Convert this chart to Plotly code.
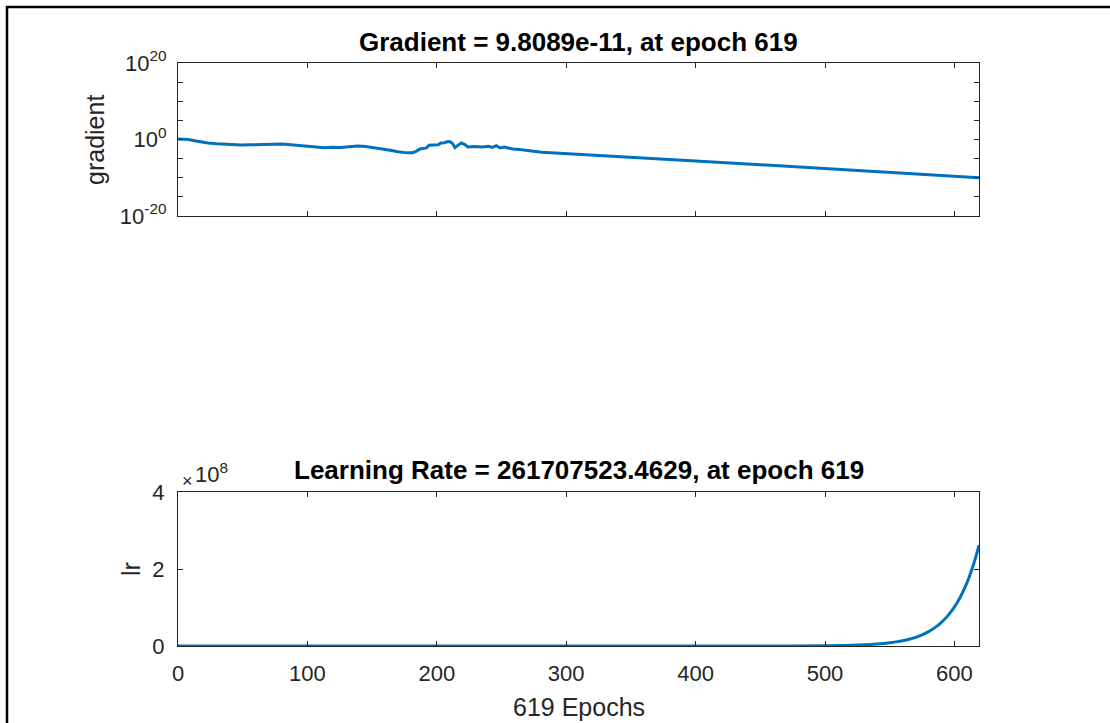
import plotly.graph_objects as go

# ---- training record ----
grad_epochs = [0, 4, 8, 13, 18, 23, 30, 36, 43, 49, 56, 62, 69, 75, 80, 85, 92, 100,
               106, 113, 119, 126, 132, 139, 145, 151, 158, 164, 170, 177, 181, 184,
               187, 190, 192, 194, 197, 201, 203, 206, 208, 210, 212, 214, 216, 219,
               222, 224, 229, 235, 240, 243, 246, 249, 252, 256, 259, 264, 269, 275,
               281, 288, 294, 305, 350, 400, 450, 500, 550, 600, 619]
gradient = [1.35, 1.26, 1.0, 0.45, 0.22, 0.13, 0.079, 0.056, 0.042, 0.036, 0.040,
            0.045, 0.056, 0.079, 0.063, 0.050, 0.028, 0.016, 0.011, 0.0072, 0.0089,
            0.0079, 0.0126, 0.020, 0.014, 0.0079, 0.0035, 0.0016, 6.3e-4, 3.2e-4,
            3.5e-4, 7.9e-4, 3.2e-3, 4.5e-3, 6.3e-3, 0.032, 0.032, 0.040, 0.126, 0.14,
            0.25, 0.28, 0.10, 0.0079, 0.025, 0.126, 0.040, 0.011, 0.014, 0.011, 0.016,
            0.0089, 0.025, 0.0063, 0.010, 0.005, 0.0032, 0.0025, 0.0014, 7.9e-4,
            4.5e-4, 3.2e-4, 2.5e-4, 1.6e-4, 2.0e-5, 2.5e-6, 2.5e-7, 2.5e-8, 2.5e-9,
            2.3e-10, 9.8089e-11]

lr_epochs = [0, 100, 200, 300, 400, 450, 500, 510, 520, 530, 540, 550, 555, 560, 565,
             570, 575, 580, 585, 590, 595, 598, 601, 603, 605, 607, 609, 611, 613,
             615, 617, 619]
lr = [0.01, 5, 80, 900, 5.0e3, 6.0e4, 6.8e5, 1.12e6, 1.85e6, 3.0e6, 5.0e6, 8.3e6,
      1.07e7, 1.37e7, 1.76e7, 2.26e7, 2.9e7, 3.73e7, 4.78e7, 6.14e7, 7.89e7, 9.16e7,
      1.064e8, 1.176e8, 1.299e8, 1.436e8, 1.587e8, 1.754e8, 1.939e8, 2.143e8,
      2.368e8, 261707523.4629]

x_ticks = [0, 100, 200, 300, 400, 500, 600]
grad_tickvals = [1e-20, 1e-15, 1e-10, 1e-5, 1, 1e5, 1e10, 1e15, 1e20]
grad_ticktext = ["10<sup>-20</sup>", "", "", "", "10<sup>0</sup>", "", "", "", "10<sup>20</sup>"]
lr_tickvals = [0, 2e8, 4e8]
lr_ticktext = ["0", "2", "4"]

n_epochs = grad_epochs[-1]
LINE = "#0072BD"
AX = "#262626"
FONT = "Liberation Sans, Arial, Helvetica, sans-serif"

fig = go.Figure()
fig.add_trace(go.Scatter(x=grad_epochs, y=gradient, mode="lines",
                         line=dict(color=LINE, width=3), xaxis="x", yaxis="y",
                         showlegend=False, hoverinfo="skip"))
fig.add_trace(go.Scatter(x=lr_epochs, y=lr, mode="lines",
                         line=dict(color=LINE, width=3, shape="spline", smoothing=0.6),
                         xaxis="x2", yaxis="y2", showlegend=False, hoverinfo="skip"))

axis_common = dict(showline=True, linecolor=AX, linewidth=1, mirror="ticks",
                   ticks="inside", ticklen=5, tickcolor=AX, tickwidth=1,
                   showgrid=False, zeroline=False,
                   tickfont=dict(family=FONT, size=22, color=AX))

# plot area: left 178, right 979, top 63, bottom 646 (px)
L, R, T, B, W, H = 178, 131, 63, 77, 1110, 723
pw, ph = W - L - R, H - T - B


def px(xp):
    return (xp - L) / pw


def py(yp):
    return (H - B - yp) / ph


fig.update_layout(
    width=W, height=H,
    margin=dict(l=L, r=R, t=T, b=B),
    paper_bgcolor="white", plot_bgcolor="white",
    font=dict(family=FONT, color=AX),
    xaxis=dict(axis_common, range=[0, n_epochs], tickvals=x_ticks,
               showticklabels=False, anchor="y", domain=[0, 1]),
    yaxis=dict(axis_common, type="log", range=[-20, 20], tickvals=grad_tickvals,
               ticktext=grad_ticktext, anchor="x", domain=[py(216), 1],
               ticklabelstandoff=6),
    xaxis2=dict(axis_common, range=[0, n_epochs], tickvals=x_ticks,
                anchor="y2", domain=[0, 1], ticklabelstandoff=8),
    yaxis2=dict(axis_common, range=[0, 4e8], tickvals=lr_tickvals,
                ticktext=lr_ticktext, anchor="x2", domain=[0, py(492)],
                ticklabelstandoff=8),
)

ann = [
    dict(text=f"<b>Gradient = {gradient[-1]:.4e}, at epoch {n_epochs}</b>",
         x=0.5, y=py(42), xanchor="center", yanchor="middle",
         font=dict(size=26, color="black")),
    dict(text=f"<b>Learning Rate = {lr[-1]:.4f}, at epoch {n_epochs}</b>",
         x=0.5, y=py(470), xanchor="center", yanchor="middle",
         font=dict(size=26, color="black")),
    dict(text="gradient", textangle=-90, x=px(95), y=py(140),
         xanchor="center", yanchor="middle", font=dict(size=25, color=AX)),
    dict(text="lr", textangle=-90, x=px(131), y=py(569),
         xanchor="center", yanchor="middle", font=dict(size=25, color=AX)),
    dict(text=f"{n_epochs} Epochs", x=0.5, y=py(707),
         xanchor="center", yanchor="middle", font=dict(size=25, color=AX)),
    dict(text="×", x=px(180), y=py(481),
         xanchor="left", yanchor="middle", font=dict(size=18, color=AX)),
    dict(text="10<sup>8</sup>", x=px(193), y=py(489),
         xanchor="left", yanchor="bottom", font=dict(size=22, color=AX)),
]
for a in ann:
    a.update(xref="paper", yref="paper", showarrow=False)
    a["font"].setdefault("family", FONT)
fig.update_layout(annotations=ann)

# outer frame (top and left edges)
fig.add_shape(type="line", xref="paper", yref="paper",
              x0=px(6), x1=px(1115), y0=py(7), y1=py(7),
              line=dict(color="black", width=2.5))
fig.add_shape(type="line", xref="paper", yref="paper",
              x0=px(7), x1=px(7), y0=py(6), y1=py(730),
              line=dict(color="black", width=2.5))

fig.write_html("out.html")
